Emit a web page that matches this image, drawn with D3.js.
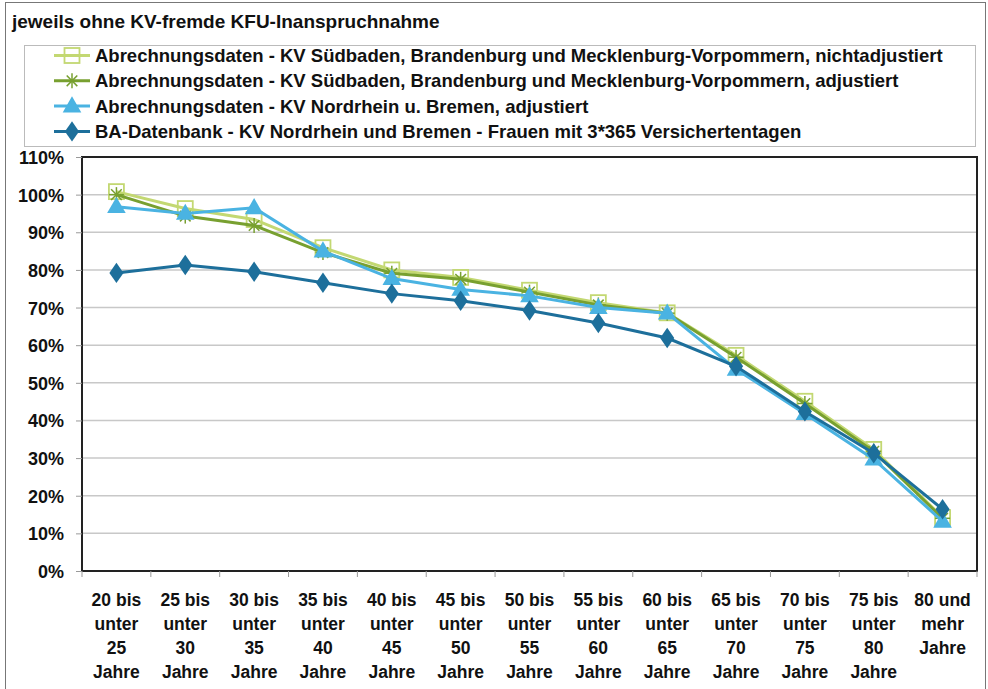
<!DOCTYPE html>
<html>
<head>
<meta charset="utf-8">
<script src="https://cdn.jsdelivr.net/npm/d3@7"></script>
<style>
  body { margin: 0; background: #fff; }
  text { font-family: "Liberation Sans", Arial, sans-serif; font-weight: bold; fill: #111; }
</style>
</head>
<body>
<script>
// categories (age groups), each label split into lines
var categories = [
  ["20 bis","unter","25","Jahre"], ["25 bis","unter","30","Jahre"], ["30 bis","unter","35","Jahre"],
  ["35 bis","unter","40","Jahre"], ["40 bis","unter","45","Jahre"], ["45 bis","unter","50","Jahre"],
  ["50 bis","unter","55","Jahre"], ["55 bis","unter","60","Jahre"], ["60 bis","unter","65","Jahre"],
  ["65 bis","unter","70","Jahre"], ["70 bis","unter","75","Jahre"], ["75 bis","unter","80","Jahre"],
  ["80 und","mehr","Jahre"]
];

var seriesNames = [
  "Abrechnungsdaten - KV Südbaden, Brandenburg und Mecklenburg-Vorpommern, nichtadjustiert",
  "Abrechnungsdaten - KV Südbaden, Brandenburg und Mecklenburg-Vorpommern, adjustiert",
  "Abrechnungsdaten - KV Nordrhein u. Bremen, adjustiert",
  "BA-Datenbank - KV Nordrhein und Bremen - Frauen mit 3*365 Versichertentagen"
];

// values in percent
var nichtadjustiert = [100.8, 96.3, 93.4, 85.9, 80.0, 78.0, 74.6, 71.3, 68.6, 57.3, 45.1, 32.3, 14.2];
var adjustiert      = [100.0, 94.3, 91.8, 84.6, 79.1, 77.5, 74.1, 70.7, 68.5, 56.8, 44.5, 31.8, 14.0];
var nordrhein       = [96.8, 95.0, 96.5, 85.0, 77.7, 74.8, 73.1, 70.0, 68.5, 53.6, 41.8, 29.7, 13.2];
var baDatenbank     = [79.2, 81.3, 79.5, 76.6, 73.7, 71.8, 69.2, 65.9, 61.9, 54.4, 42.4, 31.3, 16.4];

var yTicks = [0, 10, 20, 30, 40, 50, 60, 70, 80, 90, 100, 110];

var styles = [
  { color: "#c3d872", marker: "square" },
  { color: "#78a030", marker: "star" },
  { color: "#4ab3e2", marker: "triangle" },
  { color: "#1d6f9b", marker: "diamond" }
];
var allSeries = [nichtadjustiert, adjustiert, nordrhein, baDatenbank];

var W = 988, H = 689;
var margin = { left: 82, top: 157, right: 11, bottom: 118 };

var svg = d3.select("body").append("svg")
  .attr("width", W).attr("height", H);

// outer frame
svg.append("rect")
  .attr("x", 5.5).attr("y", 2.5).attr("width", 980).attr("height", 700)
  .attr("fill", "none").attr("stroke", "#777").attr("stroke-width", 1);

svg.append("text")
  .attr("x", 12).attr("y", 28)
  .style("font-size", "19px")
  .text("jeweils ohne KV-fremde KFU-Inanspruchnahme");

// legend
var legend = svg.append("g");
legend.append("rect")
  .attr("x", 24.5).attr("y", 45.5).attr("width", 951).attr("height", 101)
  .attr("fill", "#fff").attr("stroke", "#bbb");

var x = d3.scaleBand()
  .domain(d3.range(categories.length))
  .range([margin.left, W - margin.right]);

var y = d3.scaleLinear()
  .domain([0, 110])
  .range([H - margin.bottom, margin.top]);

var plotW = W - margin.right - margin.left;

// gridlines
svg.append("g")
  .selectAll("line")
  .data(yTicks.filter(function(t) { return t > 0 && t < 110; }))
  .enter().append("line")
  .attr("x1", margin.left).attr("x2", W - margin.right)
  .attr("y1", function(d) { return y(d); }).attr("y2", function(d) { return y(d); })
  .attr("stroke", "#c8c8c8").attr("stroke-width", 1.5);

// plot border
svg.append("rect")
  .attr("x", margin.left).attr("y", y(110))
  .attr("width", plotW).attr("height", y(0) - y(110))
  .attr("fill", "none").attr("stroke", "#222").attr("stroke-width", 2);

// y axis
var yAxis = svg.append("g")
  .attr("transform", "translate(" + margin.left + ",0)")
  .call(d3.axisLeft(y).tickValues(yTicks).tickSize(6).tickPadding(12)
    .tickFormat(function(d) { return d + "%"; }));
yAxis.select(".domain").remove();
yAxis.selectAll(".tick line").attr("stroke", "#999");
yAxis.selectAll("text").style("font-size", "18px").attr("fill", "#111").attr("dy", "0.36em")
  .attr("font-family", null);

// x axis ticks at category boundaries
var xb = d3.range(categories.length + 1).map(function(i) {
  return i < categories.length ? x(i) : x.range()[1];
});
svg.append("g").selectAll("line")
  .data(xb).enter().append("line")
  .attr("x1", function(d) { return d; }).attr("x2", function(d) { return d; })
  .attr("y1", y(0)).attr("y2", y(0) + 6)
  .attr("stroke", "#999");

var xl = svg.append("g").selectAll("text")
  .data(categories).enter().append("text")
  .attr("text-anchor", "middle")
  .attr("x", function(d, i) { return x(i) + x.bandwidth() / 2; })
  .attr("y", 606)
  .style("font-size", "17.5px");
xl.selectAll("tspan")
  .data(function(d) { return d; }).enter().append("tspan")
  .attr("x", function() { return this.parentNode.getAttribute("x"); })
  .attr("dy", function(d, i) { return i === 0 ? 0 : 24; })
  .text(function(d) { return d; });

function cx(i) { return x(i) + x.bandwidth() / 2; }

function drawMarker(g, type, color) {
  if (type === "square") {
    g.append("rect").attr("x", -7.5).attr("y", -7.5).attr("width", 15).attr("height", 15)
      .attr("fill", "none").attr("stroke", color).attr("stroke-width", 1.8);
  } else if (type === "star") {
    [0, 45, 90, 135].forEach(function(a) {
      var r = 7.5, rad = a * Math.PI / 180;
      g.append("line")
        .attr("x1", -r * Math.cos(rad)).attr("y1", -r * Math.sin(rad))
        .attr("x2", r * Math.cos(rad)).attr("y2", r * Math.sin(rad))
        .attr("stroke", color).attr("stroke-width", 1.5);
    });
  } else if (type === "triangle") {
    g.append("path").attr("d", d3.symbol().type(d3.symbolTriangle).size(150)())
      .attr("transform", "translate(0,1)")
      .attr("fill", color);
  } else {
    g.append("path").attr("d", d3.symbol().type(d3.symbolDiamond).size(120)())
      .attr("transform", "scale(1.2,1)")
      .attr("fill", color);
  }
}

var line = d3.line()
  .x(function(d, i) { return cx(i); })
  .y(function(d) { return y(d); });

// draw series so that the dark blue one is on top
allSeries.forEach(function(vals, s) {
  var st = styles[s];
  svg.append("path").datum(vals)
    .attr("d", line).attr("fill", "none")
    .attr("stroke", st.color).attr("stroke-width", 3);
  vals.forEach(function(v, i) {
    var g = svg.append("g").attr("transform", "translate(" + cx(i) + "," + y(v) + ")");
    drawMarker(g, st.marker, st.color);
  });
});

// legend entries
seriesNames.forEach(function(name, s) {
  var ly = 55.5 + s * 25.3;
  var st = styles[s];
  legend.append("line")
    .attr("x1", 54).attr("x2", 90).attr("y1", ly).attr("y2", ly)
    .attr("stroke", st.color).attr("stroke-width", 3);
  var g = legend.append("g").attr("transform", "translate(72," + ly + ")");
  drawMarker(g, st.marker, st.color);
  legend.append("text")
    .attr("x", 95).attr("y", ly).attr("dy", "0.36em")
    .style("font-size", "18.5px")
    .text(name);
});
</script>
</body>
</html>
